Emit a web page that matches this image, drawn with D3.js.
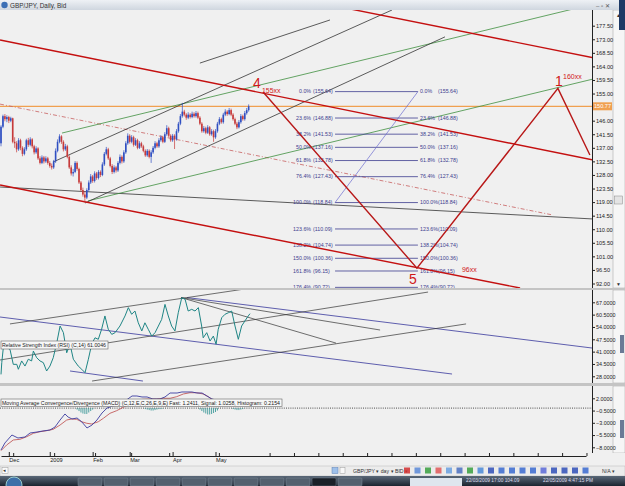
<!DOCTYPE html>
<html>
<head>
<meta charset="utf-8">
<script src="https://cdn.jsdelivr.net/npm/d3@7"></script>
<style>
  body { margin: 0; background: #fff; }
  svg { display: block; font-family: "Liberation Sans", Arial, sans-serif; }
</style>
</head>
<body>
<div id="chart"></div>
<script>
// ---- price data (daily bars, late Nov 2008 .. 22 May 2009) ----
var open  = [138.5,144.0,147.5,146.5,147.2,146.0,146.8,139.0,138.5,136.5,139.5,137.0,135.0,136.5,139.5,138.0,139.8,137.5,135.5,136.8,
             133.5,132.0,133.8,132.5,133.5,132.0,131.0,130.5,132.5,136.0,139.0,140.8,139.0,136.5,137.5,134.0,130.5,128.5,129.0,132.0,
             130.0,125.5,123.0,121.5,120.5,123.0,125.5,127.5,126.0,128.5,127.0,129.0,128.0,131.5,135.0,136.5,133.5,131.0,129.0,130.5,
             129.5,132.0,134.0,132.5,135.5,138.5,141.0,139.0,140.5,138.0,139.5,137.0,138.5,137.5,136.0,134.5,136.0,134.0,135.5,137.0,
             138.5,137.5,139.5,140.5,139.0,141.5,143.5,141.0,139.5,141.0,139.8,142.5,145.0,147.5,149.0,148.0,147.0,148.0,147.2,148.3,
             147.5,148.5,147.0,145.0,142.5,143.5,142.0,143.8,141.5,142.5,140.5,142.5,145.0,146.5,145.5,148.0,149.0,148.2,149.5,148.0,
             146.5,145.0,143.8,145.5,147.5,146.5,148.5,149.5];
var high  = [144.5,148.0,148.2,147.8,147.6,147.3,147.0,140.5,139.2,140.2,140.0,137.5,137.2,140.0,140.3,140.5,140.2,138.0,137.5,137.2,
             134.2,134.5,134.3,134.2,134.0,132.6,131.8,133.0,136.8,139.8,141.5,141.2,139.5,138.3,138.0,134.5,131.2,130.0,132.6,132.5,
             130.4,126.0,123.8,122.5,123.6,126.2,128.3,128.0,129.2,129.0,129.6,129.5,132.2,135.6,137.3,137.0,134.0,131.6,131.2,131.0,
             132.6,134.8,134.5,136.2,139.2,141.8,141.5,141.2,141.0,140.2,140.0,139.2,139.0,138.0,136.5,136.6,136.5,136.2,137.6,139.2,
             139.0,140.2,141.2,141.0,142.2,144.5,144.0,141.5,141.6,141.5,143.2,145.6,148.2,151.9,149.6,148.5,148.8,148.5,149.0,148.8,
             149.2,149.0,147.5,145.5,144.2,144.0,144.5,144.2,143.2,143.0,143.2,145.6,147.2,147.0,148.6,149.8,149.5,150.2,150.0,148.5,
             147.0,145.6,146.2,148.2,148.0,149.2,150.2,151.4];
var low   = [137.5,143.5,145.8,145.5,145.2,145.5,138.5,137.0,135.5,136.0,136.2,134.2,134.5,136.0,137.3,137.5,136.8,134.8,135.0,133.0,
             131.5,131.6,131.8,132.0,131.4,130.4,129.8,130.0,132.0,135.5,138.5,138.3,135.8,136.0,133.5,130.0,127.8,127.5,128.6,129.4,
             125.0,122.4,120.8,118.8,120.0,122.5,125.0,125.4,125.5,126.4,126.5,127.3,127.6,131.0,134.5,133.0,130.5,128.3,128.5,128.8,
             129.0,131.5,131.8,132.0,135.0,138.0,138.4,138.5,137.4,137.6,136.5,136.6,137.0,135.5,134.0,134.0,133.5,132.0,135.0,136.5,
             137.0,137.0,139.0,138.5,138.6,141.0,140.5,139.0,139.0,136.6,139.4,142.0,144.5,147.0,147.4,146.3,146.5,146.7,146.8,147.0,
             147.0,146.5,144.5,142.0,142.0,141.5,141.6,141.0,141.0,139.0,140.0,142.0,144.5,145.0,145.0,147.5,147.6,147.8,147.5,146.0,
             144.5,143.2,143.4,145.0,146.0,146.0,148.0,149.0];
var close = [144.0,147.5,146.5,147.2,146.0,146.8,139.0,138.5,136.5,139.5,137.0,135.0,136.5,139.5,138.0,139.8,137.5,135.5,136.8,133.5,
             132.0,133.8,132.5,133.5,132.0,131.0,130.5,132.5,136.0,139.0,140.8,139.0,136.5,137.5,134.0,130.5,128.5,129.0,132.0,130.0,
             125.5,123.0,121.5,120.5,123.0,125.5,127.5,126.0,128.5,127.0,129.0,128.0,131.5,135.0,136.5,133.5,131.0,129.0,130.5,129.5,
             132.0,134.0,132.5,135.5,138.5,141.0,139.0,140.5,138.0,139.5,137.0,138.5,137.5,136.0,134.5,136.0,134.0,135.5,137.0,138.5,
             137.5,139.5,140.5,139.0,141.5,143.5,141.0,139.5,141.0,139.8,142.5,145.0,147.5,149.0,148.0,147.0,148.0,147.2,148.3,147.5,
             148.5,147.0,145.0,142.5,143.5,142.0,143.8,141.5,142.5,140.5,142.5,145.0,146.5,145.5,148.0,149.0,148.2,149.5,148.0,146.5,
             145.0,143.8,145.5,147.5,146.5,148.5,149.5,150.77];
var lastPrice = 150.77;

// time axis
var monthLabels = ["Dec", "2009", "Feb", "Mar", "Apr", "May"];
var monthIdx    = [4, 25, 47, 66, 88, 110];
var minorIdx    = [6.5, 27.5, 48.5, 67, 86.5, 112, 138, 150.5, 163, 175.5, 188, 200.5, 213, 225.5, 238, 250.5, 263, 275.5, 288, 300.5];

// axis tick labels
var priceTicks = [177.5,173,168.5,164,159.5,155,146,141.5,137,132.5,128,123.5,119,114.5,110,105.5,101,96.5,92];
var rsiTicks   = [67,60.5,54,47.5,41,34.5,28];
var macdTicks  = [2,-0.5,-3,-5.5,-8];

// fibonacci tool
var fibPct = ["0.0%","23.6%","38.2%","50.0%","61.8%","76.4%","100.0%","123.6%","138.2%","150.0%","161.8%","176.4%"];
var fibVal = [155.64,146.88,141.53,137.16,132.78,127.43,118.84,110.09,104.74,100.36,96.15,90.72];
var fibFrom = 171.3, fibTo = 213.8;
var fibDiag = [[171.3,118.84],[213.8,155.64]];

// drawn lines on price panel [barIndex, price]
var redUpper   = [[168.7,184.4],[303.6,166.9]];
var redMid     = [[-0.5,172.76],[303.6,132.96]];
var redLow     = [[-0.5,124.66],[266.2,90.5]];
var waveLine   = [[134.4,155.5],[213.3,97.1],[285.6,156.7],[302,134.6]];
var redDash    = [[-0.5,151.5],[283.1,114.7]];
var blackUpper = [[26.7,132.3],[200.5,182.7]];
var blackLower = [[43.1,118.7],[227.7,173.8]];
var blackTop   = [[102,165.1],[168.7,179.4]];
var greenUpper = [[31.3,141.9],[299.5,184.0]];
var greenLower = [[44.6,119.4],[303.6,159.8]];
var blackFlat  = [[-0.5,124.0],[303.6,113.4]];

// wave labels [text, barIndex, price, size]
var waveText = [["4",129.2,156.84,14],["155xx",133.8,155.18,7],["5",209.2,91.83,14],["96xx",236.4,95.8,7],["1",284.1,157.5,14],["160xx",288.2,159.8,7]];

// RSI(14) [barIndex, value]
var rsi = [[0,29.0],[0.4,35.2],[1.2,43.1],[2.9,43.1],[4.6,42.2],[6.3,34.3],[8.1,34.3],[8.9,31.7],[10.6,36.1],[12.3,33.4],[14,37.0],
  [15.7,36.1],[16.6,41.3],[18.3,37.8],[20,36.1],[21.7,35.2],[23.4,30.8],[25.1,33.4],[26.8,37.8],[28.6,45.7],[30.3,54.5],[32,51.0],
  [33.7,40.4],[35.4,44.9],[37.1,37.0],[39.6,33.4],[41.4,31.7],[43.1,29.9],[44.8,37.0],[46.5,44.9],[48.2,48.3],[49.9,47.5],[51.6,52.8],
  [53.3,59.8],[55,52.8],[56.8,50.1],[58.5,51.0],[61,54.5],[63.6,59.8],[65.3,64.2],[67,60.7],[68.7,62.4],[70.4,56.2],[72.2,51.9],
  [73.8,56.2],[75.5,52.8],[77.3,49.2],[79,51.0],[80.7,54.5],[82.4,58.0],[84.1,65.9],[85.8,59.8],[87.5,54.5],[89.2,51.9],[90.9,61.5],
  [92.7,69.4],[94.4,68.6],[96,62.4],[97.8,63.3],[99.5,62.4],[101.2,64.2],[102.9,54.5],[103.7,48.3],[105.5,51.0],[107.2,46.6],
  [108.9,49.2],[110.3,44.9],[111.4,52.8],[113.2,58.9],[114.9,60.7],[116.6,61.5],[118.3,62.4],[120,54.5],[121.7,47.5],[123.4,54.5],
  [125.1,57.2],[126.8,59.8],[127.7,61.0]];
var rsiPurple1 = [[-0.5,59.25],[231.3,29.2]];
var rsiPurple2 = [[95.4,69.5],[303.1,42.9]];
var rsiPurple3 = [[35.4,30.8],[72.8,25.5]];
var rsiBlack1  = [[4.6,55.6],[128.2,74.5]];
var rsiBlack2  = [[-0.5,36.6],[219,72.4]];
var rsiBlack3  = [[92.3,69.5],[194.4,52.4]];
var rsiBlack4  = [[92.3,69.5],[171.8,45.5]];
var rsiBlack5  = [[46.7,25.5],[238.5,55.6]];

// MACD [barIndex, value]
var macdFast = [[0,-8.55],[2,-7.12],[5.6,-5.49],[8.7,-6.1],[12.3,-5.9],[14.9,-5.08],[18.5,-4.88],[21.5,-4.67],[25.1,-4.47],[27.7,-3.86],
  [30.3,-2.43],[32.8,-1.2],[34.4,-1.82],[36.4,-2.22],[39,-2.02],[41.5,-2.84],[44.1,-4.06],[46.7,-3.45],[49.2,-2.43],[51.8,-1.0],
  [54.4,0.02],[57.4,0.43],[61,0.63],[63.6,1.45],[67.2,2.47],[69.7,2.47],[72.3,2.27],[74.9,2.27],[77.9,1.86],[81.5,1.86],[84.1,2.27],
  [86.7,3.08],[90.3,3.08],[92.8,3.29],[95.4,3.29],[97.9,3.29],[100.5,3.08],[103.1,3.08],[105.6,2.47],[108.2,1.86],[112.3,1.45],
  [117.4,1.24],[122.6,1.45],[127.7,1.24]];
var macdSignal = [[0,-8.69],[2.9,-7.53],[6.3,-6.51],[9.7,-6.37],[13.2,-5.84],[16.6,-5.14],[20,-4.82],[23.4,-4.61],[26.8,-4.33],
  [30.3,-3.45],[33.7,-2.43],[36.3,-2.22],[38.8,-2.29],[41.4,-2.78],[44,-3.1],[46.5,-3.24],[49.9,-2.78],[52.5,-2.08],[55.9,-1.06],
  [59.3,-0.53],[62.7,0.16],[66.2,0.84],[69.6,1.65],[73,1.8],[76.4,1.86],[79.8,1.86],[83.2,2.0],[86.7,2.0],[90.1,2.33],[93.5,2.88],
  [96.9,3.14],[100.4,3.14],[103.7,2.88],[106.3,2.33],[108,1.8],[117.4,1.3],[127.7,1.03]];
var histIdx = [39,40,41,42,43,44,45,46,47, 74,75,76,77,78,79,80,81,82,83, 102,103,104,105,106,107,108,109,110,111, 119,120,121,122,123,124];
var histVal = [-0.3,-0.6,-0.9,-1.1,-1.2,-1.2,-0.9,-0.6,-0.3, -0.2,-0.3,-0.4,-0.5,-0.5,-0.4,-0.3,-0.2,-0.2,-0.1,
               -0.3,-0.6,-0.9,-1.1,-1.3,-1.3,-1.2,-1.0,-0.8,-0.5, -0.2,-0.3,-0.4,-0.4,-0.3,-0.2];

// ---- layout ----
var W = 625, H = 486, plotR = 592;
var mainP = {top: 10, bottom: 288}, rsiP = {top: 290, bottom: 383}, macdP = {top: 386, bottom: 453};

var svg = d3.select("#chart").append("svg").attr("width", W).attr("height", H);
svg.append("rect").attr("width", W).attr("height", H).attr("fill", "#d8d8d8");

var x  = d3.scaleLinear().domain([0, 300]).range([1, 586]);
var yP = d3.scaleLinear().domain([92, 177.5]).range([283.5, 25.7]);
var yR = d3.scaleLinear().domain([28, 67]).range([376.3, 302.3]);
var yM = d3.scaleLinear().domain([-8, 2]).range([447.3, 398.3]);

var defs = svg.append("defs");
[["cMain", mainP], ["cRsi", rsiP], ["cMacd", macdP]].forEach(function(c) {
  defs.append("clipPath").attr("id", c[0]).append("rect")
    .attr("x", 0).attr("y", c[1].top).attr("width", plotR).attr("height", c[1].bottom - c[1].top);
});
var tg = defs.append("linearGradient").attr("id", "title").attr("x1", 0).attr("x2", 0).attr("y1", 0).attr("y2", 1);
tg.append("stop").attr("offset", 0).attr("stop-color", "#eef1f5");
tg.append("stop").attr("offset", 1).attr("stop-color", "#cfd6df");
var tb = defs.append("linearGradient").attr("id", "task").attr("x1", 0).attr("x2", 0).attr("y1", 0).attr("y2", 1);
tb.append("stop").attr("offset", 0).attr("stop-color", "#5a6878");
tb.append("stop").attr("offset", 1).attr("stop-color", "#1b2430");

// panel backgrounds (plot + axis area)
[mainP, rsiP, macdP].forEach(function(p) {
  svg.append("rect").attr("x", 0).attr("y", p.top).attr("width", 613).attr("height", p.bottom - p.top).attr("fill", "#f0f0f0");
  svg.append("line").attr("x1", plotR + 0.5).attr("x2", plotR + 0.5).attr("y1", p.top).attr("y2", p.bottom)
    .attr("stroke", "#222").attr("stroke-width", 1);
  // scrollbar column
  svg.append("rect").attr("x", 613).attr("y", p.top).attr("width", 12).attr("height", p.bottom - p.top)
    .attr("fill", "#f6f6f6").attr("stroke", "#a0a0a0").attr("stroke-width", 0.5);
});
// separators
[[288, 290], [383, 386]].forEach(function(s) {
  svg.append("rect").attr("x", 0).attr("y", s[0]).attr("width", W).attr("height", s[1] - s[0]).attr("fill", "#c4c4c4");
});

// title bar
svg.append("rect").attr("width", W).attr("height", 10).attr("fill", "url(#title)");
svg.append("circle").attr("cx", 4.5).attr("cy", 5).attr("r", 3.2).attr("fill", "#3b6fb5");
svg.append("text").attr("x", 10).attr("y", 7.8).attr("font-size", 6.4).attr("fill", "#333").text("GBP/JPY, Daily, Bid");
svg.append("text").attr("x", 596).attr("y", 7.5).attr("font-size", 6).attr("fill", "#555").text("–   ▫   ✕");
svg.append("rect").attr("x", 619).attr("y", 0).attr("width", 6).attr("height", 30).attr("fill", "#1e3a66");

// scrollbar bits of main panel
svg.append("text").attr("x", 616).attr("y", 17).attr("font-size", 5).attr("fill", "#333").text("▲");
svg.append("text").attr("x", 616).attr("y", 286).attr("font-size", 5).attr("fill", "#333").text("▼");
svg.append("rect").attr("x", 614.5).attr("y", 196).attr("width", 8).attr("height", 8).attr("fill", "#e4e4e4").attr("stroke", "#888").attr("stroke-width", 0.5);
svg.append("rect").attr("x", 620).attr("y", 335).attr("width", 4).attr("height", 18).attr("fill", "#6a7a96");
svg.append("rect").attr("x", 620).attr("y", 420).attr("width", 4).attr("height", 18).attr("fill", "#6a7a96");

// ---- main price panel ----
var gMain = svg.append("g").attr("clip-path", "url(#cMain)");
var lineP = d3.line().x(function(d) { return x(d[0]); }).y(function(d) { return yP(d[1]); });

function drawP(pts, color, w, dash) {
  var p = gMain.append("path").attr("d", lineP(pts)).attr("fill", "none").attr("stroke", color).attr("stroke-width", w);
  if (dash) p.attr("stroke-dasharray", dash);
}

// horizontal current price
gMain.append("line").attr("x1", 0).attr("x2", plotR).attr("y1", yP(lastPrice)).attr("y2", yP(lastPrice))
  .attr("stroke", "#f0a050").attr("stroke-width", 1.2);

drawP(blackFlat, "#333", 0.8);
drawP(redDash, "#c86060", 0.8, "4,2,1,2");
drawP(greenUpper, "#3f8f3f", 0.8);
drawP(greenLower, "#3f8f3f", 0.8);
drawP(blackUpper, "#333", 0.8);
drawP(blackLower, "#333", 0.8);
drawP(blackTop, "#333", 0.8);

// fibonacci levels
var fibColor = "#3d3d8f";
fibVal.forEach(function(v, k) {
  var yy = yP(v);
  gMain.append("line").attr("x1", x(fibFrom)).attr("x2", x(fibTo)).attr("y1", yy).attr("y2", yy)
    .attr("stroke", fibColor).attr("stroke-width", 0.8);
  var lbl = "(" + v.toFixed(2) + ")";
  gMain.append("text").attr("x", x(159)).attr("y", yy + 1.8).attr("text-anchor", "end")
    .attr("font-size", 5.3).attr("fill", fibColor).text(fibPct[k]);
  gMain.append("text").attr("x", x(160)).attr("y", yy + 1.8)
    .attr("font-size", 5.3).attr("fill", fibColor).text(lbl);
  gMain.append("text").attr("x", x(214.9)).attr("y", yy + 1.8)
    .attr("font-size", 5.3).attr("fill", fibColor).text(fibPct[k]);
  gMain.append("text").attr("x", x(224.1)).attr("y", yy + 1.8)
    .attr("font-size", 5.3).attr("fill", fibColor).text(lbl);
});
drawP(fibDiag, "#6b6bd0", 0.7);

// red channel and wave
drawP(redUpper, "#c41010", 1.4);
drawP(redMid, "#c41010", 1.4);
drawP(redLow, "#c41010", 1.4);
drawP(waveLine, "#b81818", 1.4);

waveText.forEach(function(t) {
  gMain.append("text").attr("x", x(t[1])).attr("y", yP(t[2])).attr("font-size", t[3])
    .attr("fill", "#d01818").text(t[0]);
});

// candles
var bars = close.map(function(c, i) { return {i: i, o: open[i], h: high[i], l: low[i], c: c}; });
var cg = gMain.append("g").selectAll("g").data(bars).enter().append("g");
function col(d) { return d.c >= d.o ? "#2f4fc2" : "#c63a3a"; }
cg.append("line")
  .attr("x1", function(d) { return x(d.i); }).attr("x2", function(d) { return x(d.i); })
  .attr("y1", function(d) { return yP(d.h); }).attr("y2", function(d) { return yP(d.l); })
  .attr("stroke", col).attr("stroke-width", 0.7);
cg.append("rect")
  .attr("x", function(d) { return x(d.i) - 0.8; }).attr("width", 1.6)
  .attr("y", function(d) { return yP(Math.max(d.o, d.c)); })
  .attr("height", function(d) { return Math.max(0.8, Math.abs(yP(d.o) - yP(d.c))); })
  .attr("fill", col);

// price axis
var axP = svg.append("g").attr("transform", "translate(" + plotR + ",0)")
  .call(d3.axisRight(yP).tickValues(priceTicks).tickSize(3).tickPadding(1).tickFormat(d3.format(".2f")));
axP.select(".domain").remove();
axP.selectAll("text").attr("font-size", 5.6).attr("fill", "#222").attr("font-family", "Liberation Sans, Arial");
axP.selectAll("line").attr("stroke", "#222");
svg.append("rect").attr("x", 593).attr("y", yP(lastPrice) - 4).attr("width", 19).attr("height", 8).attr("fill", "#f0a050");
svg.append("text").attr("x", 602.5).attr("y", yP(lastPrice) + 2).attr("text-anchor", "middle")
  .attr("font-size", 5.6).attr("fill", "#fff").text(lastPrice.toFixed(2));

// ---- RSI panel ----
var gR = svg.append("g").attr("clip-path", "url(#cRsi)");
var lineR = d3.line().x(function(d) { return x(d[0]); }).y(function(d) { return yR(d[1]); });
function drawR(pts, color, w) {
  gR.append("path").attr("d", lineR(pts)).attr("fill", "none").attr("stroke", color).attr("stroke-width", w);
}
drawR(rsiPurple1, "#4d4da6", 0.9);
drawR(rsiPurple2, "#4d4da6", 0.9);
drawR(rsiPurple3, "#4d4da6", 0.9);
drawR(rsiBlack1, "#333", 0.7);
drawR(rsiBlack2, "#333", 0.7);
drawR(rsiBlack3, "#333", 0.7);
drawR(rsiBlack4, "#333", 0.7);
drawR(rsiBlack5, "#333", 0.7);
drawR(rsi, "#1f8585", 1);

gR.append("rect").attr("x", 1).attr("y", 341).attr("width", 107).attr("height", 8)
  .attr("fill", "#f7f7f7").attr("stroke", "#666").attr("stroke-width", 0.6);
gR.append("text").attr("x", 2).attr("y", 347.2).attr("font-size", 5.3).attr("fill", "#222")
  .attr("textLength", 104).attr("lengthAdjust", "spacingAndGlyphs")
  .text("Relative Strength Index (RSI) (C,14) 61.0046");

var axR = svg.append("g").attr("transform", "translate(" + plotR + ",0)")
  .call(d3.axisRight(yR).tickValues(rsiTicks).tickSize(3).tickPadding(1).tickFormat(d3.format(".4f")));
axR.select(".domain").remove();
axR.selectAll("text").attr("font-size", 5.4).attr("fill", "#222");
axR.selectAll("line").attr("stroke", "#222");

// ---- MACD panel ----
var gM = svg.append("g").attr("clip-path", "url(#cMacd)");
var lineM = d3.line().x(function(d) { return x(d[0]); }).y(function(d) { return yM(d[1]); });
gM.append("line").attr("x1", 0).attr("x2", plotR).attr("y1", yM(0)).attr("y2", yM(0))
  .attr("stroke", "#222").attr("stroke-width", 0.8).attr("stroke-dasharray", "1,1.2");
gM.selectAll(".hist").data(histIdx).enter().append("line")
  .attr("x1", function(d) { return x(d); }).attr("x2", function(d) { return x(d); })
  .attr("y1", yM(0)).attr("y2", function(d, k) { return yM(histVal[k]); })
  .attr("stroke", "#3f9a9a").attr("stroke-width", 0.9);
gM.append("path").attr("d", lineM(macdSignal)).attr("fill", "none").attr("stroke", "#c25a5a").attr("stroke-width", 0.9);
gM.append("path").attr("d", lineM(macdFast)).attr("fill", "none").attr("stroke", "#3c3ca0").attr("stroke-width", 0.9);
gM.append("rect").attr("x", 1).attr("y", 399).attr("width", 281).attr("height", 7.5)
  .attr("fill", "#f7f7f7").attr("stroke", "#666").attr("stroke-width", 0.6);
gM.append("text").attr("x", 2).attr("y", 404.9).attr("font-size", 5.3).attr("fill", "#222")
  .attr("textLength", 278).attr("lengthAdjust", "spacingAndGlyphs")
  .text("Moving Average Convergence/Divergence (MACD) (C,12,E,C,26,E,9,E)  Fast: 1.2411, Signal: 1.0258, Histogram: 0.2154");

var axM = svg.append("g").attr("transform", "translate(" + plotR + ",0)")
  .call(d3.axisRight(yM).tickValues(macdTicks).tickSize(3).tickPadding(1).tickFormat(d3.format(".4f")));
axM.select(".domain").remove();
axM.selectAll("text").attr("font-size", 5.4).attr("fill", "#222");
axM.selectAll("line").attr("stroke", "#222");

// ---- time axis ----
svg.append("rect").attr("x", 0).attr("y", 453).attr("width", W).attr("height", 13).attr("fill", "#f0f0f0");
var axT = svg.append("g").attr("transform", "translate(0,456)")
  .call(d3.axisBottom(x).tickValues(monthIdx).tickSizeInner(-4).tickSizeOuter(0).tickPadding(2)
    .tickFormat(function(d, k) { return monthLabels[k]; }));
axT.select(".domain").attr("stroke", "#222");
axT.selectAll("line").attr("stroke", "#222");
axT.selectAll("text").attr("font-size", 5.6).attr("fill", "#222").attr("text-anchor", "start");
svg.append("g").selectAll("line").data(minorIdx).enter().append("line")
  .attr("x1", function(d) { return x(d); }).attr("x2", function(d) { return x(d); })
  .attr("y1", 453).attr("y2", 456).attr("stroke", "#222").attr("stroke-width", 1);

// ---- toolbar row ----
svg.append("rect").attr("x", 0).attr("y", 466).attr("width", W).attr("height", 10).attr("fill", "#ececec")
  .attr("stroke", "#b8b8b8").attr("stroke-width", 0.5);
svg.append("rect").attr("x", 2).attr("y", 467.5).attr("width", 6).attr("height", 6).attr("fill", "#fafafa").attr("stroke", "#999").attr("stroke-width", 0.5);
svg.append("text").attr("x", 3.3).attr("y", 472.3).attr("font-size", 4.5).attr("fill", "#333").text("◂");
svg.append("rect").attr("x", 332).attr("y", 467.5).attr("width", 6).attr("height", 6).attr("fill", "#9ec0ea").attr("stroke", "#5a7fb5").attr("stroke-width", 0.5);
svg.append("rect").attr("x", 340).attr("y", 467.5).attr("width", 5).attr("height", 6).attr("fill", "#f8f8f8").attr("stroke", "#999").attr("stroke-width", 0.5);
svg.append("text").attr("x", 353).attr("y", 473).attr("font-size", 5.2).attr("fill", "#333").text("GBP/JPY ▾  day ▾  BID ▾");
var iconCols = ["#d23030","#5a8ad8","#3aa040","#e05858","#6aa0e0","#4a70c0","#3aa040","#4a8ad8","#3050b8","#3a6ad0","#3a6ad0","#3a6ad0","#3a6ad0","#5a6ad8","#3050b8","#3050b8","#3050b8","#3a6ad0"];
iconCols.forEach(function(c, k) {
  svg.append("rect").attr("x", 404 + k * 10.5).attr("y", 467.5).attr("width", 6).attr("height", 6)
    .attr("fill", c).attr("opacity", 0.85);
});
svg.append("text").attr("x", 602).attr("y", 473).attr("font-size", 5.2).attr("fill", "#333").text("N/A ▾");

// ---- taskbar ----
svg.append("rect").attr("x", 0).attr("y", 476).attr("width", W).attr("height", 10).attr("fill", "url(#task)");
svg.append("circle").attr("cx", 14).attr("cy", 485).attr("r", 8).attr("fill", "#3d6fa8").attr("stroke", "#9cc", "stroke-width", 0.5);
for (var k = 0; k < 11; k++) {
  svg.append("rect").attr("x", 78 + k * 26).attr("y", 478).attr("width", 24).attr("height", 8)
    .attr("fill", k === 9 ? "#1a2028" : "#54616f").attr("stroke", "#8c98a6").attr("stroke-width", 0.4).attr("rx", 1);
}
svg.append("rect").attr("x", 410).attr("y", 478).attr("width", 52).attr("height", 8).attr("fill", "#dfe6ee");
svg.append("text").attr("x", 466).attr("y", 481.5).attr("font-size", 4.8).attr("fill", "#dde").text("22/03/2009 17:00   104.09");
svg.append("text").attr("x", 543).attr("y", 481.5).attr("font-size", 4.8).attr("fill", "#dde").text("22/05/2009 4:47:15 PM");
</script>
</body>
</html>
